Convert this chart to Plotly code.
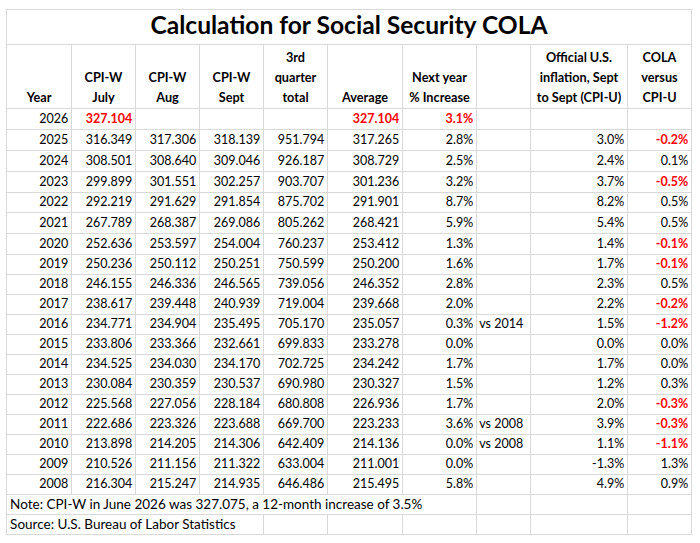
import plotly.graph_objects as go

# ---------------- data ----------------
title_text = "Calculation for Social Security COLA"
headers = ["Year", "CPI-W<br>July", "CPI-W<br>Aug", "CPI-W<br>Sept", "3rd<br>quarter<br>total",
           "Average", "Next year<br>% Increase", "", "Official U.S.<br>inflation, Sept<br>to Sept (CPI-U)",
           "COLA<br>versus<br>CPI-U"]
years = [2026, 2025, 2024, 2023, 2022, 2021, 2020, 2019, 2018, 2017, 2016, 2015, 2014, 2013, 2012,
         2011, 2010, 2009, 2008]
cpiw_july = [327.104, 316.349, 308.501, 299.899, 292.219, 267.789, 252.636, 250.236, 246.155, 238.617,
             234.771, 233.806, 234.525, 230.084, 225.568, 222.686, 213.898, 210.526, 216.304]
cpiw_aug = [None, 317.306, 308.640, 301.551, 291.629, 268.387, 253.597, 250.112, 246.336, 239.448,
            234.904, 233.366, 234.030, 230.359, 227.056, 223.326, 214.205, 211.156, 215.247]
cpiw_sept = [None, 318.139, 309.046, 302.257, 291.854, 269.086, 254.004, 250.251, 246.565, 240.939,
             235.495, 232.661, 234.170, 230.537, 228.184, 223.688, 214.306, 211.322, 214.935]
q3_total = [None, 951.794, 926.187, 903.707, 875.702, 805.262, 760.237, 750.599, 739.056, 719.004,
            705.170, 699.833, 702.725, 690.980, 680.808, 669.700, 642.409, 633.004, 646.486]
average = [327.104, 317.265, 308.729, 301.236, 291.901, 268.421, 253.412, 250.200, 246.352, 239.668,
           235.057, 233.278, 234.242, 230.327, 226.936, 223.233, 214.136, 211.001, 215.495]
next_year_pct = [3.1, 2.8, 2.5, 3.2, 8.7, 5.9, 1.3, 1.6, 2.8, 2.0, 0.3, 0.0, 1.7, 1.5, 1.7, 3.6, 0.0, 0.0, 5.8]
comparison = ["", "", "", "", "", "", "", "", "", "", "vs 2014", "", "", "", "", "vs 2008", "vs 2008", "", ""]
cpiu_pct = [None, 3.0, 2.4, 3.7, 8.2, 5.4, 1.4, 1.7, 2.3, 2.2, 1.5, 0.0, 1.7, 1.2, 2.0, 3.9, 1.1, -1.3, 4.9]
cola_vs_cpiu = [None, -0.2, 0.1, -0.5, 0.5, 0.5, -0.1, -0.1, 0.5, -0.2, -1.2, 0.0, 0.0, 0.3, -0.3, -0.3,
                -1.1, 1.3, 0.9]
note_text = "Note: CPI-W in June 2026 was 327.075, a 12-month increase of 3.5%"
source_text = "Source: U.S. Bureau of Labor Statistics"

# ---------------- layout constants ----------------
W, H = 700, 543
col_edges = [6.5, 71.5, 135.5, 199.5, 263.5, 327.5, 402.5, 476.5, 530.5, 627.5, 691.5]
row_lines = [9.5, 44.5, 108.5, 129.5, 150.5, 171.5, 192.5, 212.5, 233.5, 254.5] + \
            [254.5 + 20 * k for k in range(1, 15)]
GRID = "#d9d9d9"
FONT = "Lato"
FS = 12.5
FS_HEAD = 12.7
FS_NOTE = 13.5
RED = "#ff0000"
BLACK = "#000000"
PAD_R = 3.3
PAD_L = 2.8
CAP_OFF = 9.3


def f3(v):
    return "" if v is None else f"{v:.3f}"


def fp(v):
    return "" if v is None else f"{v:.1f}%"


n = len(years)
columns = [
    [str(y) for y in years],
    [f3(v) for v in cpiw_july],
    [f3(v) for v in cpiw_aug],
    [f3(v) for v in cpiw_sept],
    [f3(v) for v in q3_total],
    [f3(v) for v in average],
    [fp(v) for v in next_year_pct],
    comparison,
    [fp(v) for v in cpiu_pct],
    [fp(v) for v in cola_vs_cpiu],
]
aligns = ["right"] * 7 + ["left"] + ["right"] * 2

# style flags: red bold for 2026 projections and negative COLA vs CPI-U
red = [[False] * n for _ in columns]
for c in (1, 5, 6):
    red[c][0] = True
for i, v in enumerate(cola_vs_cpiu):
    if v is not None and v < 0:
        red[9][i] = True

fig = go.Figure()

# grid lines
gx, gy = [], []
for yv in row_lines:
    gx += [col_edges[0], col_edges[-1], None]
    gy += [yv, yv, None]
for xv in (col_edges[0], col_edges[-1]):
    gx += [xv, xv, None]
    gy += [row_lines[0], row_lines[-1], None]
data_bottom = row_lines[3 + n - 1]
note_bottom = row_lines[3 + n]
src_bottom = row_lines[3 + n + 1]
for xv in col_edges[1:-1]:
    gx += [xv, xv, None]
    gy += [row_lines[1], data_bottom, None]
    if xv >= 476:
        gx += [xv, xv, None]
        gy += [data_bottom, note_bottom, None]
    if xv >= 263:
        gx += [xv, xv, None]
        gy += [note_bottom, src_bottom, None]
fig.add_trace(go.Scatter(x=gx, y=gy, mode="lines", line=dict(color=GRID, width=1),
                         hoverinfo="skip", showlegend=False))

# data cells
for c, vals in enumerate(columns):
    xs, ys, txt, cols = [], [], [], []
    for i, t in enumerate(vals):
        if t == "":
            continue
        bottom = row_lines[3 + i]
        if aligns[c] == "right":
            xs.append(col_edges[c + 1] - PAD_R)
        else:
            xs.append(col_edges[c] + PAD_L)
        ys.append(bottom - CAP_OFF)
        if red[c][i]:
            txt.append(f"<b>{t}</b>")
            cols.append(RED)
        else:
            txt.append(t)
            cols.append(BLACK)
    fig.add_trace(go.Scatter(
        x=xs, y=ys, text=txt, mode="text", cliponaxis=False,
        textposition="middle left" if aligns[c] == "right" else "middle right",
        textfont=dict(family=FONT, size=FS, color=cols),
        hoverinfo="skip", showlegend=False))

# headers (bottom aligned, centered)
hx, hy, ht = [], [], []
for c, h in enumerate(headers):
    if not h:
        continue
    lines = h.split("<br>")
    for k, line in enumerate(reversed(lines)):
        hx.append((col_edges[c] + col_edges[c + 1]) / 2)
        hy.append(row_lines[2] - CAP_OFF - 20 * k)
        ht.append(f"<b>{line}</b>")
fig.add_trace(go.Scatter(x=hx, y=hy, text=ht, mode="text", textposition="middle center",
                         cliponaxis=False,
                         textfont=dict(family=FONT, size=FS_HEAD, color=BLACK),
                         hoverinfo="skip", showlegend=False))

# title
fig.add_trace(go.Scatter(x=[(col_edges[0] + col_edges[-1]) / 2], y=[row_lines[1] - 16.2],
                         text=[f"<b>{title_text}</b>"], mode="text", textposition="middle center",
                         cliponaxis=False,
                         textfont=dict(family=FONT, size=24.6, color=BLACK),
                         hoverinfo="skip", showlegend=False))

# note and source
fig.add_trace(go.Scatter(x=[col_edges[0] + PAD_L + 0.8] * 2,
                         y=[note_bottom - CAP_OFF, src_bottom - CAP_OFF],
                         text=[note_text, source_text], mode="text", textposition="middle right",
                         cliponaxis=False,
                         textfont=dict(family=FONT, size=FS_NOTE, color=BLACK),
                         hoverinfo="skip", showlegend=False))

fig.update_layout(
    width=W, height=H, margin=dict(l=0, r=0, t=0, b=0),
    paper_bgcolor="white", plot_bgcolor="white",
    xaxis=dict(range=[0, W], visible=False, fixedrange=True),
    yaxis=dict(range=[H, 0], visible=False, fixedrange=True),
    showlegend=False,
)
fig.write_html("out.html", config={"displayModeBar": False},
               post_script="document.body.style.margin='0px';")
